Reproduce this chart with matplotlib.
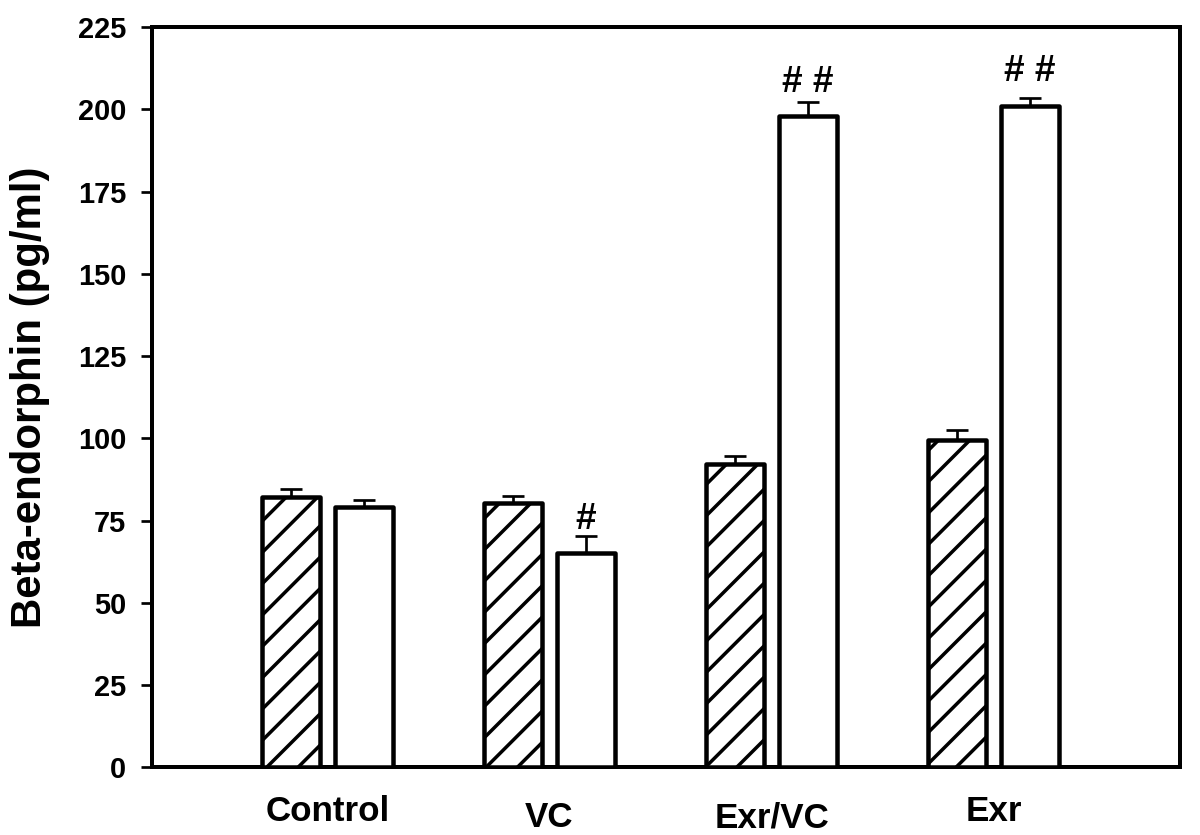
import matplotlib
matplotlib.use("Agg")
import matplotlib.pyplot as plt
import matplotlib.transforms as mtransforms
import numpy as np

# ---- data ----
categories = ["Control", "VC", "Exr/VC", "Exr"]
hatched_vals = [82.3, 80.2, 92.2, 99.5]
hatched_err = [2.3, 2.2, 2.3, 3.0]
open_vals = [79.2, 65.2, 197.9, 201.1]
open_err = [2.1, 5.2, 4.3, 2.2]
annot_text = ["", "#", "# #", "# #"]
annot_y = [0, 72.3, 205.2, 208.6]
yticks = [0, 25, 50, 75, 100, 125, 150, 175, 200, 225]

DPI = 188
W, H = 1200, 835
def px(v):
    return v * 72.0 / DPI

plt.rcParams['font.family'] = ['Liberation Sans', 'DejaVu Sans']
plt.rcParams['hatch.linewidth'] = px(3.5)
plt.rcParams['hatch.color'] = 'black'

fig = plt.figure(figsize=(W / DPI, H / DPI), dpi=DPI)
ax = fig.add_axes([152 / W, 1 - 767.4 / H, (1180 - 152) / W, (767.4 - 27) / H])

x = np.arange(len(categories))
off = 0.1644
bw = 0.261

ax.bar(x - off, hatched_vals, width=bw, facecolor='white', edgecolor='black',
       linewidth=px(4.5), hatch='//', zorder=3, joinstyle='round')
ax.bar(x + off, open_vals, width=bw, facecolor='white', edgecolor='black',
       linewidth=px(4.5), zorder=3, joinstyle='round')

ax.errorbar(x - off, hatched_vals, yerr=[np.zeros(4), hatched_err], fmt='none',
            ecolor='black', elinewidth=px(2.7), capsize=px(11), capthick=px(2.7), zorder=2)
ax.errorbar(x + off, open_vals, yerr=[np.zeros(4), open_err], fmt='none',
            ecolor='black', elinewidth=px(2.7), capsize=px(11), capthick=px(2.7), zorder=2)

for xi, t, yv in zip(x + off, annot_text, annot_y):
    if t:
        ax.text(xi, yv, t, ha='center', va='baseline', fontsize=px(37),
                fontweight='bold')

ax.set_xlim(-0.7905, 3.840)
ax.set_ylim(0, 225)
ax.set_yticks(yticks)
ax.set_yticklabels([str(v) for v in yticks], fontsize=px(29), fontweight='bold')
ax.tick_params(axis='y', direction='out', length=px(11), width=px(2.7), pad=px(15))
ax.set_xticks([])

for s in ax.spines.values():
    s.set_linewidth(px(4))

ax.set_ylabel("Beta-endorphin (pg/ml)", fontsize=px(42), fontweight='bold')
ax.yaxis.set_label_coords(-0.0992, 0.5)

trans = mtransforms.blended_transform_factory(ax.transData, ax.transAxes)
label_dy = [0, -6, -6, 0]
for xi, lab, dy in zip(x, categories, label_dy):
    ax.text(xi, 0, lab, transform=trans + mtransforms.ScaledTranslation(0, (dy - 28) / DPI, fig.dpi_scale_trans),
            ha='center', va='top', fontsize=px(35), fontweight='bold')

fig.savefig("out.png", dpi=DPI)
